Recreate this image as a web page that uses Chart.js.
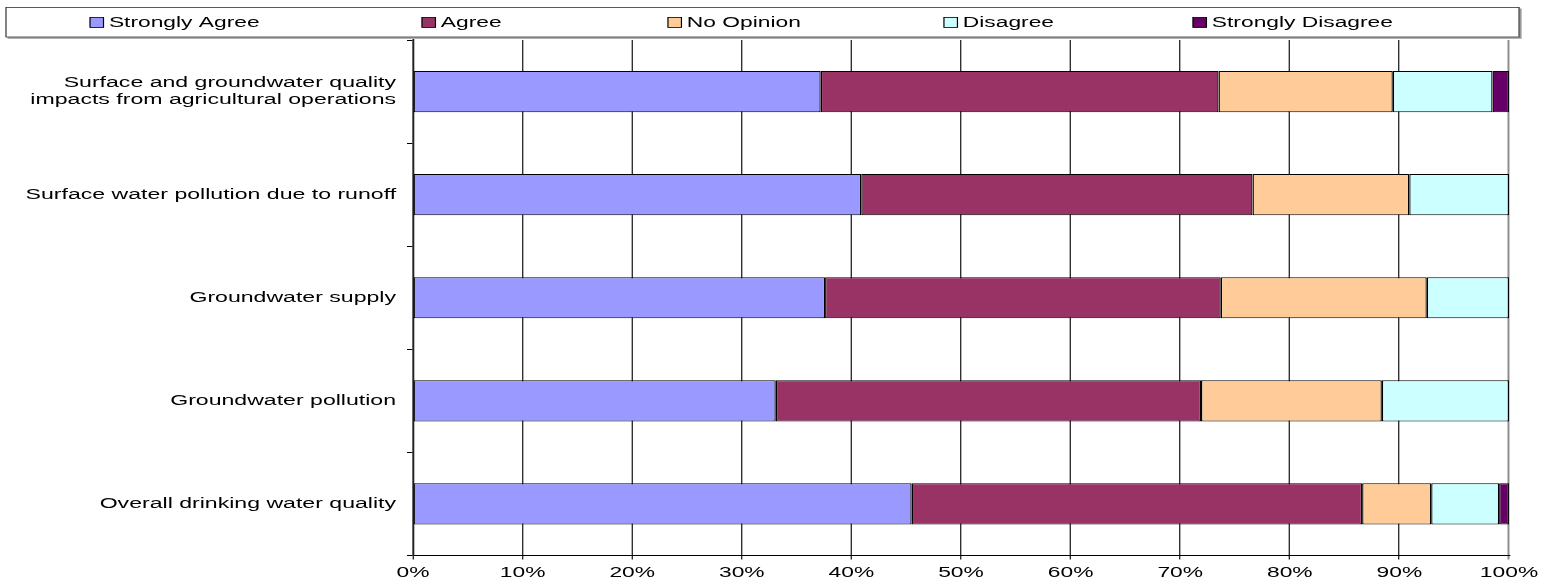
<!DOCTYPE html>
<html>
<head>
<meta charset="utf-8">
<script src="https://cdn.jsdelivr.net/npm/chart.js@4/dist/chart.umd.min.js"></script>
<style>
  html, body { margin: 0; padding: 0; background: #fff; }
  #wrap { width: 1551px; height: 582px; }
</style>
</head>
<body>
<div id="wrap"><canvas id="c" width="1034" height="582"></canvas></div>
<script>
// Survey topics, top to bottom
const categories = [
  ['Surface and groundwater quality', 'impacts from agricultural operations'],
  'Surface water pollution due to runoff',
  'Groundwater supply',
  'Groundwater pollution',
  'Overall drinking water quality'
];

// Share of responses per topic, in percent
const stronglyAgree    = [37.2, 40.9, 37.6, 33.1, 45.5];
const agree            = [36.3, 35.7, 36.1, 38.8, 41.1];
const noOpinion        = [15.9, 14.3, 18.8, 16.5, 6.3];
const disagree         = [9.1, 9.1, 7.5, 11.6, 6.2];
const stronglyDisagree = [1.5, 0, 0, 0, 0.9];

const seriesNames = ['Strongly Agree', 'Agree', 'No Opinion', 'Disagree', 'Strongly Disagree'];
const seriesValues = [stronglyAgree, agree, noOpinion, disagree, stronglyDisagree];
const seriesColors = ['#9999FF', '#993366', '#FFCC99', '#CCFFFF', '#660066'];

const xTicks = [0, 10, 20, 30, 40, 50, 60, 70, 80, 90, 100];

// Text in this chart is drawn wide: the whole drawing is stretched horizontally.
const STRETCH = 1.5;
const FONT = { family: '"Liberation Sans", Arial, sans-serif', size: 15.4, lineHeight: 1.12 };
const LEGEND_FONT_SIZE = 15.2;

const legendPlugin = {
  id: 'boxLegend',
  afterDraw(chart) {
    const ctx = chart.ctx;
    ctx.save();
    // legend frame
    const bx = 4, by = 7.5, bw = 1008.7, bh = 29.5;
    ctx.fillStyle = '#fff';
    ctx.fillRect(bx, by, bw, bh);
    ctx.strokeStyle = '#9a9a9a';
    ctx.lineWidth = 1.4;
    ctx.beginPath();
    ctx.moveTo(bx + 1, by + bh + 1);
    ctx.lineTo(bx + bw + 1, by + bh + 1);
    ctx.lineTo(bx + bw + 1, by + 1);
    ctx.stroke();
    ctx.strokeStyle = '#333';
    ctx.lineWidth = 0.8;
    ctx.strokeRect(bx, by, bw, bh);
    // legend entries
    const itemX = [60, 281.3, 445.3, 629.3, 795.3];
    ctx.font = `${LEGEND_FONT_SIZE}px ${FONT.family}`;
    ctx.textBaseline = 'middle';
    ctx.textAlign = 'left';
    chart.data.datasets.forEach((ds, i) => {
      const x = itemX[i], y = 22.5;
      ctx.fillStyle = ds.backgroundColor;
      ctx.fillRect(x, y - 5, 9, 10);
      ctx.strokeStyle = '#000';
      ctx.lineWidth = 0.8;
      ctx.strokeRect(x, y - 5, 9, 10);
      ctx.fillStyle = '#000';
      ctx.fillText(ds.label, x + 12.6, y);
    });
    ctx.restore();
  }
};

const datasets = seriesNames.map((name, i) => ({
  label: name,
  data: seriesValues[i],
  backgroundColor: seriesColors[i],
  borderColor: '#000',
  borderWidth: { top: 1, bottom: 1, left: 0.9, right: 0.9 },
  borderSkipped: false,
  barPercentage: 0.4,
  categoryPercentage: 1.0
}));

const canvas = document.getElementById('c');
const chart = new Chart(canvas, {
  type: 'bar',
  data: { labels: categories, datasets },
  options: {
    indexAxis: 'y',
    responsive: false,
    animation: false,
    devicePixelRatio: 1,
    layout: { padding: { top: 40, left: 0, right: 28, bottom: 0 } },
    plugins: { legend: { display: false }, tooltip: { enabled: false } },
    scales: {
      x: {
        stacked: true,
        min: 0,
        max: 100,
        afterBuildTicks(scale) { scale.ticks = xTicks.map(v => ({ value: v })); },
        afterFit(scale) { scale.height = 26.5; },
        ticks: { color: '#000', font: { ...FONT, size: 15.2 }, padding: 5, maxRotation: 0, callback: v => v + '%' },
        grid: {
          color: c => (c.tick && c.tick.value === 100 ? '#8c8c8c' : '#000'),
          lineWidth: c => (c.tick && c.tick.value === 100 ? 1.3 : 0.75),
          tickLength: 4
        },
        border: { color: '#000', width: 1 }
      },
      y: {
        stacked: true,
        afterFit(scale) { scale.width = 275.33; },
        ticks: { color: '#000', font: FONT, padding: 7.3 },
        grid: { drawOnChartArea: false, color: '#000', lineWidth: 1, tickLength: 4, offset: true },
        border: { color: '#222', width: 1.2 }
      }
    }
  },
  plugins: [legendPlugin]
});

// Redraw onto a wider backing store with a horizontal stretch.
canvas.width = Math.round(chart.width * STRETCH);
canvas.style.width = canvas.width + 'px';
canvas.style.height = chart.height + 'px';
chart.ctx.setTransform(STRETCH, 0, 0, 1, 0, 0);
chart.draw();
</script>
</body>
</html>
